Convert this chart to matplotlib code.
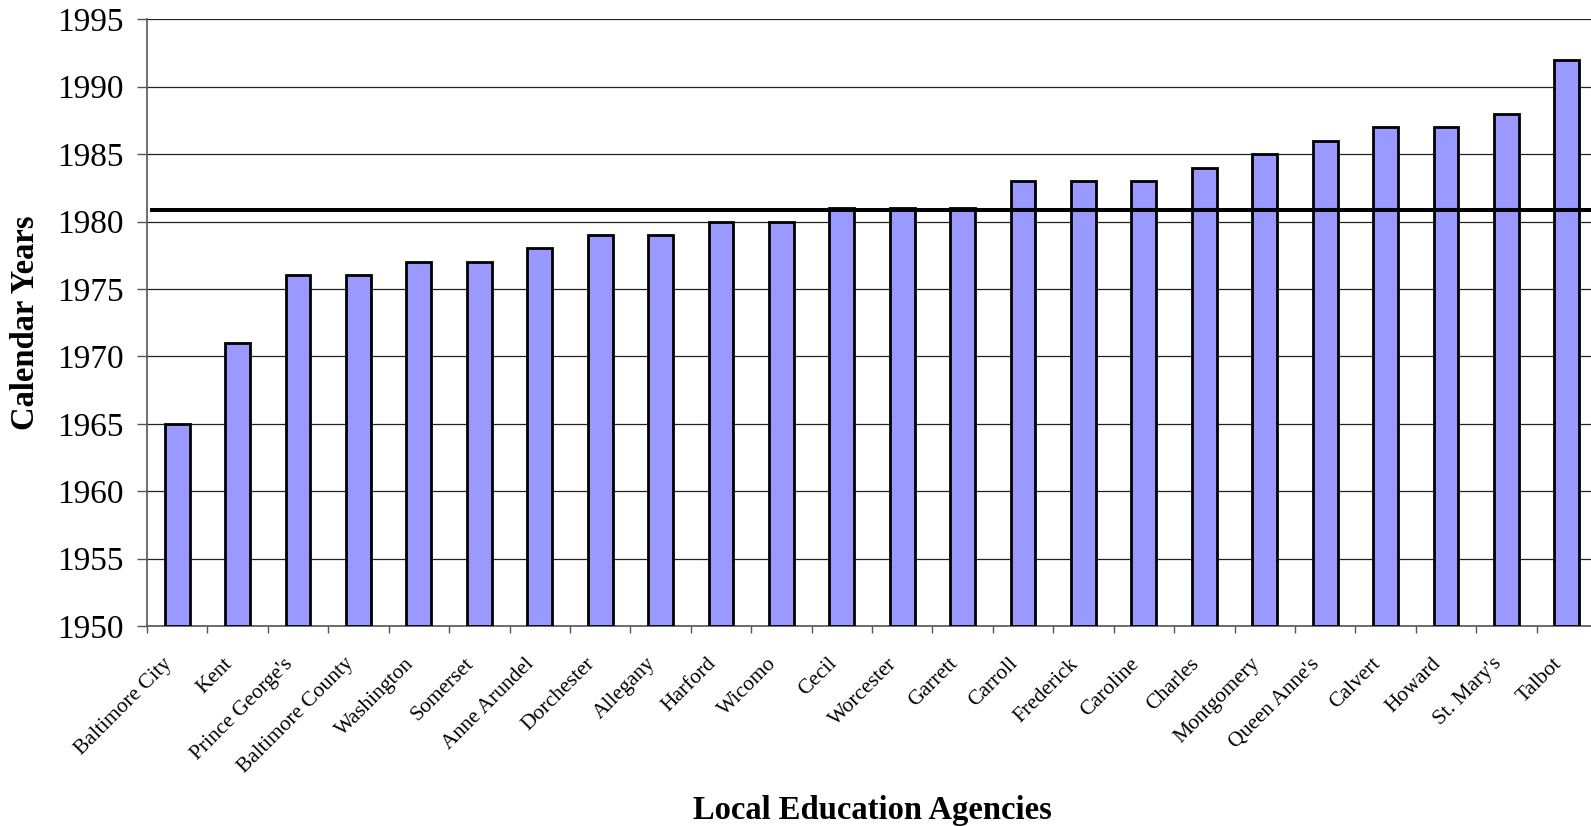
import matplotlib
matplotlib.use("Agg")
import matplotlib.pyplot as plt
import numpy as np

categories = ["Baltimore City", "Kent", "Prince George's", "Baltimore County", "Washington",
              "Somerset", "Anne Arundel", "Dorchester", "Allegany", "Harford", "Wicomo",
              "Cecil", "Worcester", "Garrett", "Carroll", "Frederick", "Caroline", "Charles",
              "Montgomery", "Queen Anne's", "Calvert", "Howard", "St. Mary's", "Talbot"]
years = [1965, 1971, 1976, 1976, 1977, 1977, 1978, 1979, 1979, 1980, 1980,
         1981, 1981, 1981, 1983, 1983, 1983, 1984, 1985, 1986, 1987, 1987, 1988, 1992]
reference_year = 1980.85
y_ticks = [1950, 1955, 1960, 1965, 1970, 1975, 1980, 1985, 1990, 1995]

plt.rcParams['font.family'] = ['Liberation Serif', 'DejaVu Serif']

W, H = 1591, 826
fig = plt.figure(figsize=(W / 100, H / 100), dpi=100)
ax = fig.add_axes([147 / W, 1 - 626 / H, 1450 / W, (626 - 19.3) / H])

x = np.arange(len(categories))
base = y_ticks[0]
heights = [v - base for v in years]
ax.bar(x, heights, bottom=base, width=0.41, color='#9999FF', edgecolor='black',
       linewidth=2.0, zorder=3)

ax.set_ylim(y_ticks[0], y_ticks[-1])
ax.set_xlim(-0.5, len(categories) - 0.5)
ax.set_yticks(y_ticks)
ax.set_yticklabels([str(t) for t in y_ticks], fontsize=24)
ax.yaxis.grid(True, color='#222222', linewidth=0.9, zorder=0)
ax.set_axisbelow(True)

# horizontal reference line
ax.plot([-0.42, len(categories) - 0.5], [reference_year, reference_year],
        color='black', linewidth=2.9, zorder=4, clip_on=False)

ax.set_xticks(np.arange(-0.5, len(categories) + 0.5, 1.0))
ax.set_xticklabels([])
ax.tick_params(axis='x', length=5, width=1, color='#555555', direction='out')
ax.tick_params(axis='y', length=7, width=1, color='#555555', direction='out', pad=10)

for i, name in enumerate(categories):
    ax.text(i - 0.13, base - 2.6, name, rotation=45, rotation_mode='anchor',
            ha='right', va='center', fontsize=15.5)

for s in ['top', 'right']:
    ax.spines[s].set_visible(False)
for s in ['left', 'bottom']:
    ax.spines[s].set_color('#555555')
    ax.spines[s].set_linewidth(1.2)

fig.text(26 / W, 1 - 323 / H, 'Calendar Years', rotation=90, fontsize=23.5,
         fontweight='bold', ha='center', va='center')
fig.text(872 / W, 1 - 810 / H, 'Local Education Agencies', fontsize=23.5,
         fontweight='bold', ha='center', va='center')

fig.savefig('out.png', dpi=100)
